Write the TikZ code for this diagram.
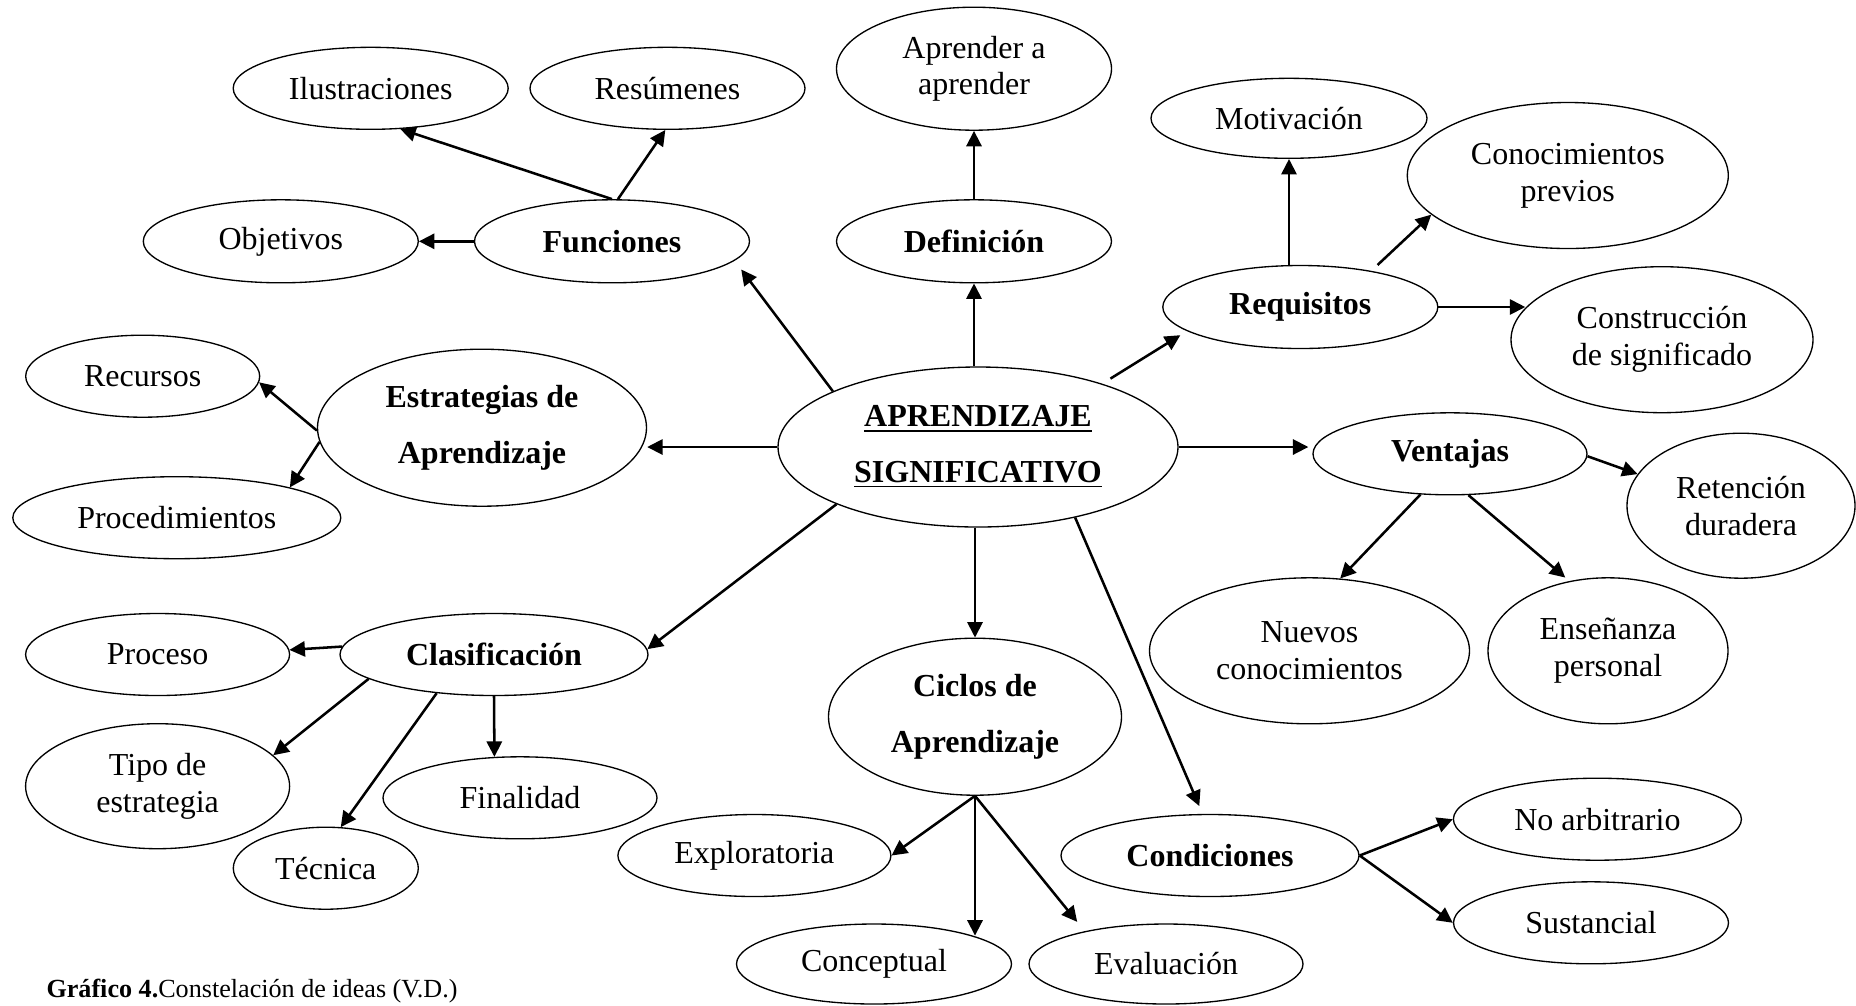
\documentclass[tikz,border=0pt]{standalone}
\usepackage{fontspec}
\setmainfont{Liberation Serif}
\usetikzlibrary{shapes.geometric,arrows.meta}

\tikzset{
  el/.style={ellipse, draw, line width=0.5pt, inner sep=0pt, align=center,
             font=\fontsize{12}{13.8}\selectfont},
  bel/.style={el, font=\bfseries\fontsize{12}{20.8}\selectfont},
  sz/.style 2 args={minimum width=#1*0.375pt, minimum height=#2*0.375pt},
  arr/.style={-{Triangle[length=5.8pt,width=5.7pt]}, line width=0.95pt},
  caption/.style={anchor=base west, inner sep=0pt, font=\fontsize{9.8}{12}\selectfont}
}

\begin{document}
\begin{tikzpicture}[x=0.375pt, y=-0.375pt]
\useasboundingbox (0,0) rectangle (1856,1005);

% central concept
\node[bel, sz={400}{160}] (ap) at (978,447) {\underline{APRENDIZAJE}\\\underline{SIGNIFICATIVO}};

% upper left branch
\node[el,  sz={275}{82}]  (ilu) at (370.7,88.3)  {Ilustraciones};
\node[el,  sz={275}{82}]  (res) at (667.5,88.3)  {Resúmenes};
\node[el,  sz={275}{83}]  (obj) at (280.8,241.3) {Objetivos};
\node[bel, sz={275}{83}]  (fun) at (612,241.3)   {Funciones};

% definition
\node[el,  sz={275}{123}] (apa) at (974,68.7)  {Aprender a\\aprender};
\node[bel, sz={275}{83}]  (def) at (974,241.3) {Definición};

% requirements
\node[el,  sz={276}{80}]  (mot)  at (1289,118.3)  {Motivación};
\node[bel, sz={275}{83}]  (req)  at (1300.3,307)  {Requisitos};
\node[el,  sz={321}{146}] (con)  at (1567.8,175.5) {Conocimientos\\previos};
\node[el,  sz={302}{146}] (cons) at (1662,339.7)  {Construcción\\de significado};

% learning strategies
\node[el,  sz={234}{82}]  (rec) at (142.7,376.2) {Recursos};
\node[bel, sz={329}{157}] (est) at (482,427.7)   {Estrategias de\\Aprendizaje};
\node[el,  sz={328}{82}]  (pro) at (176.8,517.7) {Procedimientos};

% advantages
\node[bel, sz={274}{82}]  (ven) at (1450,453.8)   {Ventajas};
\node[el,  sz={228}{145}] (ret) at (1741,505.7)   {Retención\\duradera};
\node[el,  sz={320}{146}] (nue) at (1309.5,650.8) {Nuevos\\conocimientos};
\node[el,  sz={240}{146}] (ens) at (1608,650.8)   {Enseñanza\\personal};

% classification
\node[bel, sz={308}{82}]  (cla) at (494,654.5)   {Clasificación};
\node[el,  sz={264}{82}]  (prc) at (157.6,654.5) {Proceso};
\node[el,  sz={264}{125}] (tip) at (157.6,786.2) {Tipo de\\estrategia};
\node[el,  sz={185}{82}]  (tec) at (325.8,868.2) {Técnica};
\node[el,  sz={274}{82}]  (fin) at (520,797.8)   {Finalidad};

% learning cycles
\node[bel, sz={293}{157}] (cic) at (975,716.7)   {Ciclos de\\Aprendizaje};
\node[el,  sz={273}{82}]  (exp) at (754.4,855.5) {Exploratoria};
\node[el,  sz={275}{80}]  (cpt) at (874,964)     {Conceptual};
\node[el,  sz={274}{80}]  (eva) at (1166,964)    {Evaluación};

% conditions
\node[bel, sz={298}{82}]  (cnd) at (1210,855.5)   {Condiciones};
\node[el,  sz={288}{82}]  (noa) at (1597.4,819.2) {No arbitrario};
\node[el,  sz={275}{82}]  (sus) at (1591,922.8)   {Sustancial};

\node[caption] (cap) at (46,997) {\textbf{Gráfico 4.}Constelación de ideas (V.D.)};

% connectors
\draw[arr] (fun.north) -- (ilu.-54.3);
\draw[arr] (fun.82) -- (res.-93.8);
\draw[arr] (fun.west) -- (obj.east);
\draw[arr] (def.north) -- (apa.south);
\draw[arr] (def.south |- ap.north) -- (def.south);
\draw[arr, shorten >=4.1pt] (ap.159.5) -- (fun.-9.6);
\draw[arr] (ap.west) -- (ap.west -| est.east);
\draw[arr, shorten <=3.6pt, shorten >=2.9pt] (ap.27.4) -- (req.192.6);
\draw[arr, shorten >=1.5pt] (ap.east) -- (ap.east -| ven.west);
\draw[arr] (mot.south |- req.north) -- (mot.south);
\draw[arr, shorten <=3.2pt] (req.27) -- (con.196);
\draw[arr, shorten >=-5.6pt] (req.east) -- (req.east -| cons.west);
\draw[arr] (est.181.8) -- (rec.-3.2);
\draw[arr] (est.185.4) -- (pro.15.2);
\draw[arr] (ven.-1.9) -- (ret.163.5);
\draw[arr] (ven.-126) -- (nue.67.8);
\draw[arr, shorten >=2pt] (ven.-66.5) -- (ens.119.5);
\draw[arr] (ap.202.4) -- (cla.2.8);
\draw[arr] (cic.north |- ap.south) -- (cic.north);
\draw[arr, shorten >=3.2pt] (ap.-36.8) -- (cnd.100.3);
\draw[arr] (cla.177.8) -- (prc.2.5);
\draw[arr] (cla.191.2) -- (tip.15.6);
\draw[arr] (cla.214.3) -- (tec.70);
\draw[arr] (cla.south) -- (fin.122.7);
\draw[arr] (cic.south) -- (exp.east);
\draw[arr, shorten >=-4.6pt] (cic.south) -- (cic.south |- cpt.north);
\draw[arr, shorten >=4.5pt] (cic.south) -- (eva.158.6);
\draw[arr] (cnd.east) -- (noa.west);
\draw[arr] (cnd.east) -- (sus.west);
\end{tikzpicture}
\end{document}
